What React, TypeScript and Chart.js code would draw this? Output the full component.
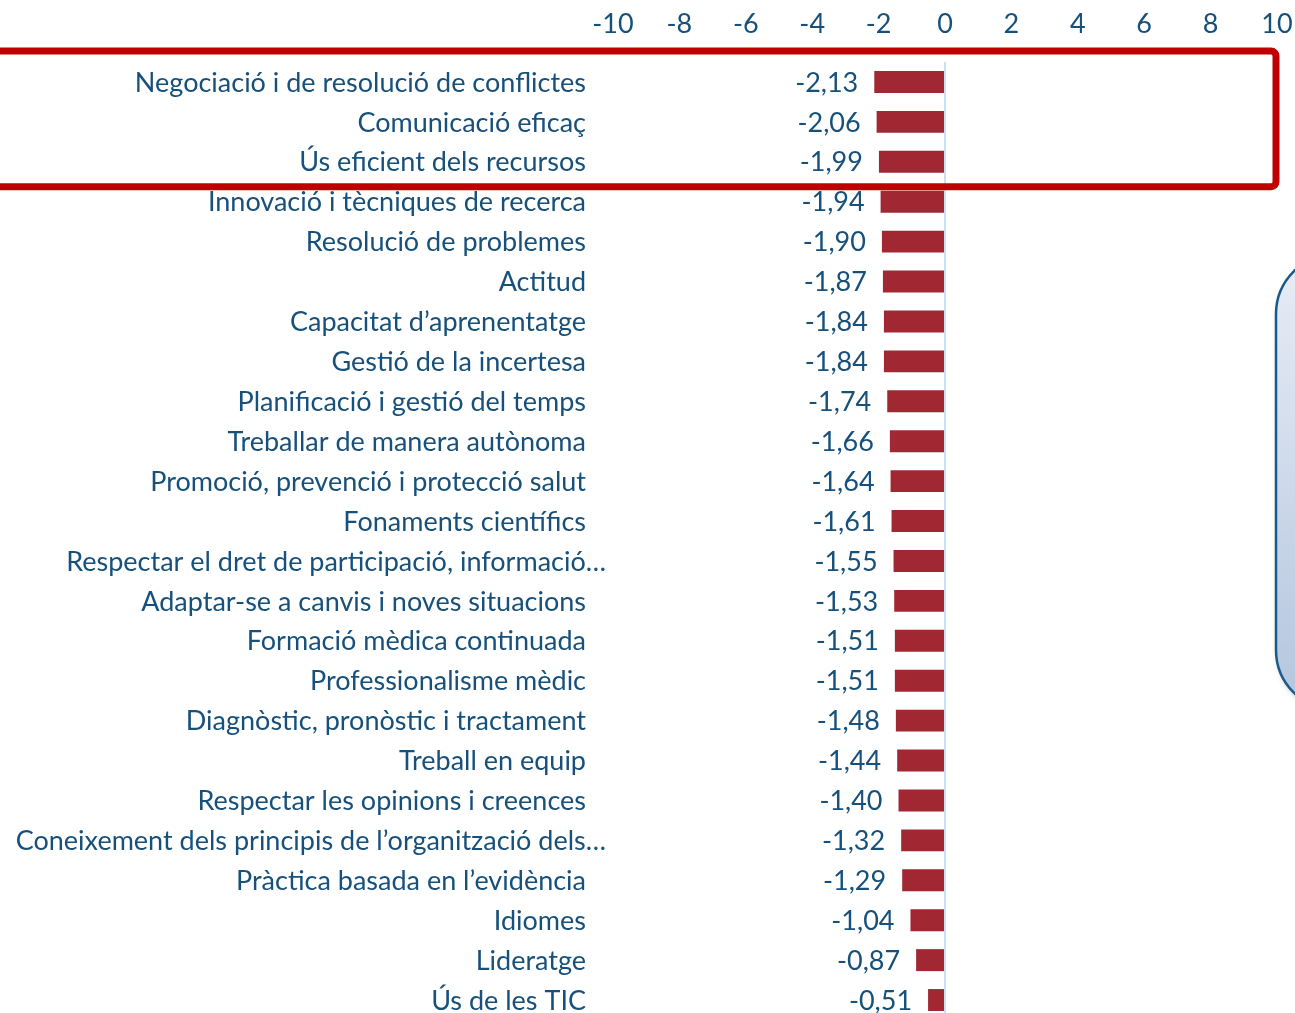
import React, { useEffect, useRef } from 'react';
import { Chart, registerables } from 'chart.js';

Chart.register(...registerables);

const categories: string[] = [
  'Negociació i de resolució de conflictes',
  'Comunicació eficaç',
  'Ús eficient dels recursos',
  'Innovació i tècniques de recerca',
  'Resolució de problemes',
  'Actitud',
  'Capacitat d’aprenentatge',
  'Gestió de la incertesa',
  'Planificació i gestió del temps',
  'Treballar de manera autònoma',
  'Promoció, prevenció i protecció salut',
  'Fonaments científics',
  'Respectar el dret de participació, informació…',
  'Adaptar-se a canvis i noves situacions',
  'Formació mèdica continuada',
  'Professionalisme mèdic',
  'Diagnòstic, pronòstic i tractament',
  'Treball en equip',
  'Respectar les opinions i creences',
  'Coneixement dels principis de l’organització dels…',
  'Pràctica basada en l’evidència',
  'Idiomes',
  'Lideratge',
  'Ús de les TIC',
];

const values: number[] = [
  -2.13, -2.06, -1.99, -1.94, -1.9, -1.87, -1.84, -1.84, -1.74, -1.66, -1.64, -1.61,
  -1.55, -1.53, -1.51, -1.51, -1.48, -1.44, -1.4, -1.32, -1.29, -1.04, -0.87, -0.51,
];

const axisMin = -10;
const axisMax = 10;
const axisStep = 2;
const highlightedRows = 3;

const TEXT = '#17507A';
const BAR = '#A12833';
const FONT = 'Lato, "Open Sans", sans-serif';
const FONT_SIZE = 27;

const W = 1295;
const H = 1040;

const formatValue = (v: number) => v.toFixed(2).replace('.', ',');

const overlayPlugin = {
  id: 'overlay',
  afterDatasetsDraw(chart: any) {
    const ctx: CanvasRenderingContext2D = chart.ctx;
    const area = chart.chartArea;
    const yScale = chart.scales.y;
    const meta = chart.getDatasetMeta(0);

    ctx.save();
    ctx.font = `${FONT_SIZE}px ${FONT}`;
    ctx.fillStyle = TEXT;
    ctx.textBaseline = 'middle';
    ctx.textAlign = 'right';

    // category labels
    categories.forEach((c, i) => {
      const y = yScale.getPixelForValue(i);
      const x = c.endsWith('…') ? area.left - 7 : area.left - 27;
      ctx.fillText(c, x, y + 1);
    });

    // data labels
    meta.data.forEach((bar: any, i: number) => {
      const p = bar.getProps(['x', 'base', 'y'], true);
      ctx.fillText(formatValue(values[i]), Math.min(p.x, p.base) - 16, p.y + 1);
    });

    // red highlight rectangle
    const top = yScale.getPixelForValue(0) - 31;
    const bottom = yScale.getPixelForValue(highlightedRows - 1) + 25;
    const right = area.right - 1;
    const left = -20;
    const r = 5;
    ctx.strokeStyle = '#C00000';
    ctx.lineWidth = 7;
    ctx.beginPath();
    ctx.moveTo(left, top);
    ctx.lineTo(right - r, top);
    ctx.arcTo(right, top, right, top + r, r);
    ctx.lineTo(right, bottom - r);
    ctx.arcTo(right, bottom, right - r, bottom, r);
    ctx.lineTo(left, bottom);
    ctx.stroke();

    // rounded callout box on the right (partially visible)
    const bx = area.right - 1;
    const by = 254;
    const bw = 200;
    const bh = 456;
    const br = 60;
    ctx.shadowColor = 'rgba(0,0,0,0.25)';
    ctx.shadowBlur = 6;
    ctx.shadowOffsetX = 2;
    ctx.shadowOffsetY = 3;
    const grad = ctx.createLinearGradient(0, by, 0, by + bh);
    grad.addColorStop(0, '#E8EDF6');
    grad.addColorStop(1, '#B3C5DE');
    ctx.fillStyle = grad;
    ctx.beginPath();
    ctx.moveTo(bx + br, by);
    ctx.lineTo(bx + bw, by);
    ctx.lineTo(bx + bw, by + bh);
    ctx.lineTo(bx + br, by + bh);
    ctx.arcTo(bx, by + bh, bx, by + bh - br, br);
    ctx.lineTo(bx, by + br);
    ctx.arcTo(bx, by, bx + br, by, br);
    ctx.closePath();
    ctx.fill();
    ctx.shadowColor = 'transparent';
    ctx.strokeStyle = '#1A5A88';
    ctx.lineWidth = 2.5;
    ctx.stroke();

    ctx.restore();
  },
};

export default function App() {
  const canvasRef = useRef<HTMLCanvasElement | null>(null);

  useEffect(() => {
    let chart: Chart | null = null;
    let cancelled = false;
    const build = () => {
      if (cancelled || !canvasRef.current) return;
      chart = new Chart(canvasRef.current, {
        type: 'bar',
        data: {
          labels: categories,
          datasets: [
            {
              data: values,
              backgroundColor: BAR,
              borderWidth: 0,
              barPercentage: 0.55,
              categoryPercentage: 1,
            },
          ],
        },
        options: {
          indexAxis: 'y',
          responsive: false,
          maintainAspectRatio: false,
          animation: false,
          layout: { padding: { left: 613, right: 18, top: 8, bottom: 20 } },
          plugins: {
            legend: { display: false },
            tooltip: { enabled: false },
          },
          scales: {
            x: {
              position: 'top',
              min: axisMin,
              max: axisMax,
              ticks: {
                stepSize: axisStep,
                color: TEXT,
                font: { family: FONT, size: FONT_SIZE },
                padding: 22,
                maxRotation: 0,
              },
              grid: {
                drawTicks: false,
                lineWidth: 2,
                color: (c: any) => (c.tick && c.tick.value === 0 ? '#C6E0F5' : 'rgba(0,0,0,0)'),
              },
              border: { display: false },
              afterFit: (s: any) => {
                s.height = 54;
                s.paddingLeft = 0;
                s.paddingRight = 0;
              },
            },
            y: {
              display: false,
            },
          },
        },
        plugins: [overlayPlugin],
      } as any);
    };
    const fontsReady = (document as any).fonts?.load
      ? (document as any).fonts.load(`${FONT_SIZE}px Lato`).catch(() => null)
      : Promise.resolve();
    fontsReady.then(build);
    return () => {
      cancelled = true;
      if (chart) chart.destroy();
    };
  }, []);

  return (
    <div
      style={{
        position: 'fixed',
        left: 0,
        top: 0,
        width: W,
        height: 1013,
        overflow: 'hidden',
        background: '#fff',
      }}
    >
      <canvas ref={canvasRef} width={W} height={H} style={{ display: 'block' }} />
    </div>
  );
}
